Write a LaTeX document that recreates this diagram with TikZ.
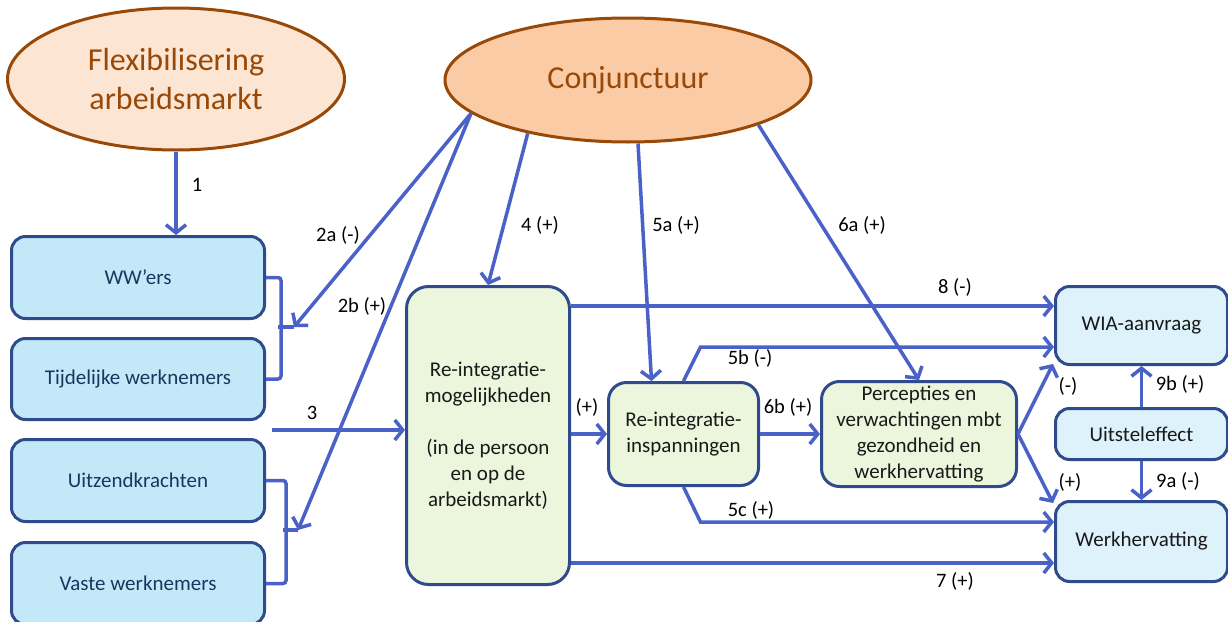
\documentclass[tikz,border=0pt]{standalone}
\usepackage{fontspec}
\setmainfont{Carlito}
\usetikzlibrary{arrows.meta,shapes.geometric,calc}
\definecolor{arrblue}{HTML}{4A62C8}
\definecolor{boxborder}{HTML}{2F4B8E}
\definecolor{leftfill}{HTML}{C3E9F9}
\definecolor{rightfill}{HTML}{DDF2FB}
\definecolor{greenfill}{HTML}{EBF6DC}
\definecolor{navytext}{HTML}{17375E}
\definecolor{brown}{HTML}{984807}
\definecolor{peach}{HTML}{FDE5D3}
\definecolor{orangefill}{HTML}{FBCBA5}
\tikzset{
  ell/.style={ellipse, draw=brown, line width=3pt, text=brown, align=center, inner sep=0pt,
     font=\fontsize{32}{39}\selectfont},
  leftbox/.style={draw=boxborder, line width=3pt, fill=leftfill, rounded corners=14pt,
     anchor=north west, minimum width=253pt, text=navytext, align=center, inner sep=0pt,
     font=\fontsize{21}{26}\selectfont},
  rightbox/.style={draw=boxborder, line width=3pt, fill=rightfill, rounded corners=14pt,
     anchor=north west, minimum width=172pt, text=black!90, align=center, inner sep=0pt,
     font=\fontsize{21}{26}\selectfont},
  greenbox/.style={draw=boxborder, line width=3pt, fill=greenfill, rounded corners=18pt,
     anchor=north west, text=black!90, align=center, inner sep=0pt,
     font=\fontsize{21}{26}\selectfont},
  arr/.style={draw=arrblue, line width=3.5pt, -{Straight Barb[length=8pt,width=20pt]}},
  brk/.style={draw=arrblue, line width=3.5pt, rounded corners=3pt},
  lbl/.style={font=\fontsize{20.5}{24}\selectfont, text=black, inner sep=0pt},
}
\begin{document}
\begin{tikzpicture}[x=1pt,y=-1pt]
\useasboundingbox (0,0) rectangle (1228,621);

% ellipses
\node[ell, fill=peach, minimum width=337pt, minimum height=142pt] (flex) at (176,79) {Flexibilisering\\arbeidsmarkt};
\node[ell, fill=orangefill, minimum width=366pt, minimum height=124pt] (conj) at (628,80) {Conjunctuur};

% left boxes
\node[leftbox, minimum height=82pt] (ww) at (10,235) {WW’ers};
\node[leftbox, minimum height=81pt] (tij) at (10,337) {Tijdelijke werknemers};
\node[leftbox, minimum height=82pt] (uit) at (10,438) {Uitzendkrachten};
\node[leftbox, minimum height=82pt] (vast) at (10,541) {Vaste werknemers};

% green boxes
\node[greenbox, minimum width=163pt, minimum height=298pt, rounded corners=22pt] (big) at (405,285)
  {Re-integratie-\\mogelijkheden\\[26pt](in de persoon\\en op de\\arbeidsmarkt)};
\node[greenbox, minimum width=150pt, minimum height=103pt] (insp) at (607,381) {Re-integratie-\\inspanningen};
\node[greenbox, minimum width=195pt, minimum height=105pt] (perc) at (820,380)
  {Percepties en\\verwachtingen mbt\\gezondheid en\\werkhervatting};

% right boxes
\node[rightbox, minimum height=78pt] (wia) at (1054,285) {WIA-aanvraag};
\node[rightbox, minimum height=51pt] (uits) at (1054,407) {Uitsteleffect};
\node[rightbox, minimum height=80pt] (wk) at (1054,500) {Werkhervatting};

% brackets
\coordinate (br1) at (294,327);
\coordinate (br2) at (298,530);
\draw[brk] (ww.east) -- ++(15,0) |- (tij.east);
\draw[brk] (278,327) -- (br1);
\draw[brk] (uit.east) -- ++(20,0) |- (vast.east);
\draw[brk] (283,530) -- (br2);

% arrows
\draw[arr] (flex.south) -- (flex.south |- ww.north);
\draw[arr] (conj.192) -- (br1);
\draw[arr] (conj.192) -- (br2);
\coordinate (a3) at (272,430);
\draw[arr] (a3) -- (a3 -| big.west);
\draw[arr] (conj.208.6) -- (big.north);
\draw[arr] ([xshift=10pt]conj.south) -- ([xshift=-32pt]insp.north);
\draw[arr] (conj.341.7) -- (perc.north);
\draw[arr] ([yshift=-21pt]big.north east) coordinate (a8) -- (a8 -| wia.west);
\draw[arr] ([yshift=23pt]big.south east) coordinate (a7) -- (a7 -| wk.west);
\draw[arr] (insp.north) -- ++(17,-34) coordinate (b5) -- (b5 -| wia.west);
\draw[arr] (insp.south) -- ++(17,35) coordinate (c5) -- (c5 -| wk.west);
\draw[arr] (insp.west -| big.east) -- (insp.west);
\draw[arr] (insp.east) -- (insp.east -| perc.west);
\draw[arr] (perc.east) -- ([xshift=-1pt,yshift=2pt]wia.south west);
\draw[arr] (perc.east) -- ([xshift=-1pt,yshift=-3pt]wk.north west);
\draw[arr] (uits.north) -- (wia.south);
\draw[arr] (uits.south) -- (wk.north);

% labels
\node[lbl] (l1) at (197,185) {1};
\node[lbl] (l2a) at (338,235) {2a (-)};
\node[lbl] (l2b) at (362,306) {2b (+)};
\node[lbl] (l3) at (312,413) {3};
\node[lbl] (l4) at (540,225) {4 (+)};
\node[lbl] (l5a) at (676,225) {5a (+)};
\node[lbl] (l6a) at (862,225) {6a (+)};
\node[lbl] (l8) at (955,287) {8 (-)};
\node[lbl] (l5b) at (750,358) {5b (-)};
\node[lbl] (lp) at (587,407) {(+)};
\node[lbl] (l6b) at (788,407) {6b (+)};
\node[lbl] (l5c) at (751,510) {5c (+)};
\node[lbl] (l7) at (955,581) {7 (+)};
\node[lbl] (lm) at (1068,386) {(-)};
\node[lbl] (lpp) at (1070,482) {(+)};
\node[lbl] (l9b) at (1180,384) {9b (+)};
\node[lbl] (l9a) at (1178,481) {9a (-)};
\end{tikzpicture}
\end{document}
